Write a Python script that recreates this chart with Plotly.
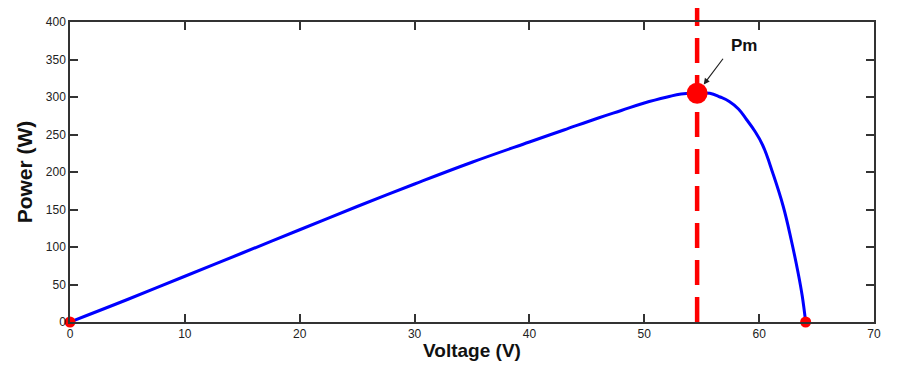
import plotly.graph_objects as go

# P-V curve data
voltage = [0, 5, 10, 15, 20, 25, 30, 35, 40, 43, 46, 48, 50, 52, 53.2, 54.6,
           55.7, 56.6, 57.4, 58.2, 58.9, 59.6, 60.3, 61.2, 62.1, 62.8, 63.4, 63.75, 64.05]
power = [0, 30, 61, 92, 123, 154, 184, 213, 240, 256, 272, 282, 292, 300, 304, 305,
         305, 300, 294, 284, 270, 255, 236, 198, 154, 109, 65, 35, 0]

end_v = [0, 64.05]
end_p = [0, 0]
pm_v = [54.6]
pm_p = [305]
pm_label = "Pm"

x_ticks = [0, 10, 20, 30, 40, 50, 60, 70]
y_ticks = [0, 50, 100, 150, 200, 250, 300, 350, 400]

fig = go.Figure()
fig.add_trace(go.Scatter(x=voltage, y=power, mode="lines",
                         line=dict(color="#0000ff", width=3, shape="spline", smoothing=1.2),
                         hoverinfo="skip", showlegend=False))
fig.add_trace(go.Scatter(x=end_v, y=end_p, mode="markers",
                         marker=dict(color="#ff0000", size=11),
                         cliponaxis=False, showlegend=False))
fig.add_trace(go.Scatter(x=pm_v, y=pm_p, mode="markers",
                         marker=dict(color="#ff0000", size=21),
                         cliponaxis=False, showlegend=False))

fig.add_shape(type="line", xref="x", yref="paper", x0=pm_v[0], x1=pm_v[0], y0=0, y1=1.05,
              line=dict(color="#ff0000", width=4.5, dash="25px,12px"), layer="below")

fig.add_annotation(x=pm_v[0], y=pm_p[0], text="", showarrow=True, arrowhead=2,
                   arrowsize=1, arrowwidth=1.2, arrowcolor="#222222",
                   ax=27, ay=-36, standoff=11)
fig.add_annotation(x=pm_v[0], y=pm_p[0], text="<b>" + pm_label + "</b>", showarrow=False,
                   xshift=47, yshift=48, font=dict(family="Liberation Sans, Arial", size=17, color="#111111"))

axis_common = dict(showline=True, linecolor="#333333", linewidth=1.5, mirror="ticks",
                   ticks="inside", ticklen=8, tickwidth=1.5, tickcolor="#333333",
                   showgrid=False, zeroline=False, automargin=False,
                   tickfont=dict(family="Liberation Sans Narrow, Liberation Sans, Arial", size=12, color="#222222"))

fig.update_xaxes(range=[0, 70], tickvals=x_ticks, ticktext=[str(v) for v in x_ticks],
                 title=dict(text="<b>Voltage (V)</b>", standoff=4,
                            font=dict(family="Liberation Sans, Arial", size=19, color="#111111")),
                 **axis_common)
fig.update_yaxes(range=[0, 400], tickvals=y_ticks, ticktext=[str(v) for v in y_ticks],
                 title=dict(text="<b>Power (W)</b>", standoff=7,
                            font=dict(family="Liberation Sans, Arial", size=21, color="#111111")),
                 **axis_common)

# page body adds an 8px offset, so margins are reduced accordingly
fig.update_layout(width=911, height=375, margin=dict(l=62, r=45, t=14, b=61, autoexpand=False),
                  plot_bgcolor="white", paper_bgcolor="white", showlegend=False)

fig.write_html("out.html")
